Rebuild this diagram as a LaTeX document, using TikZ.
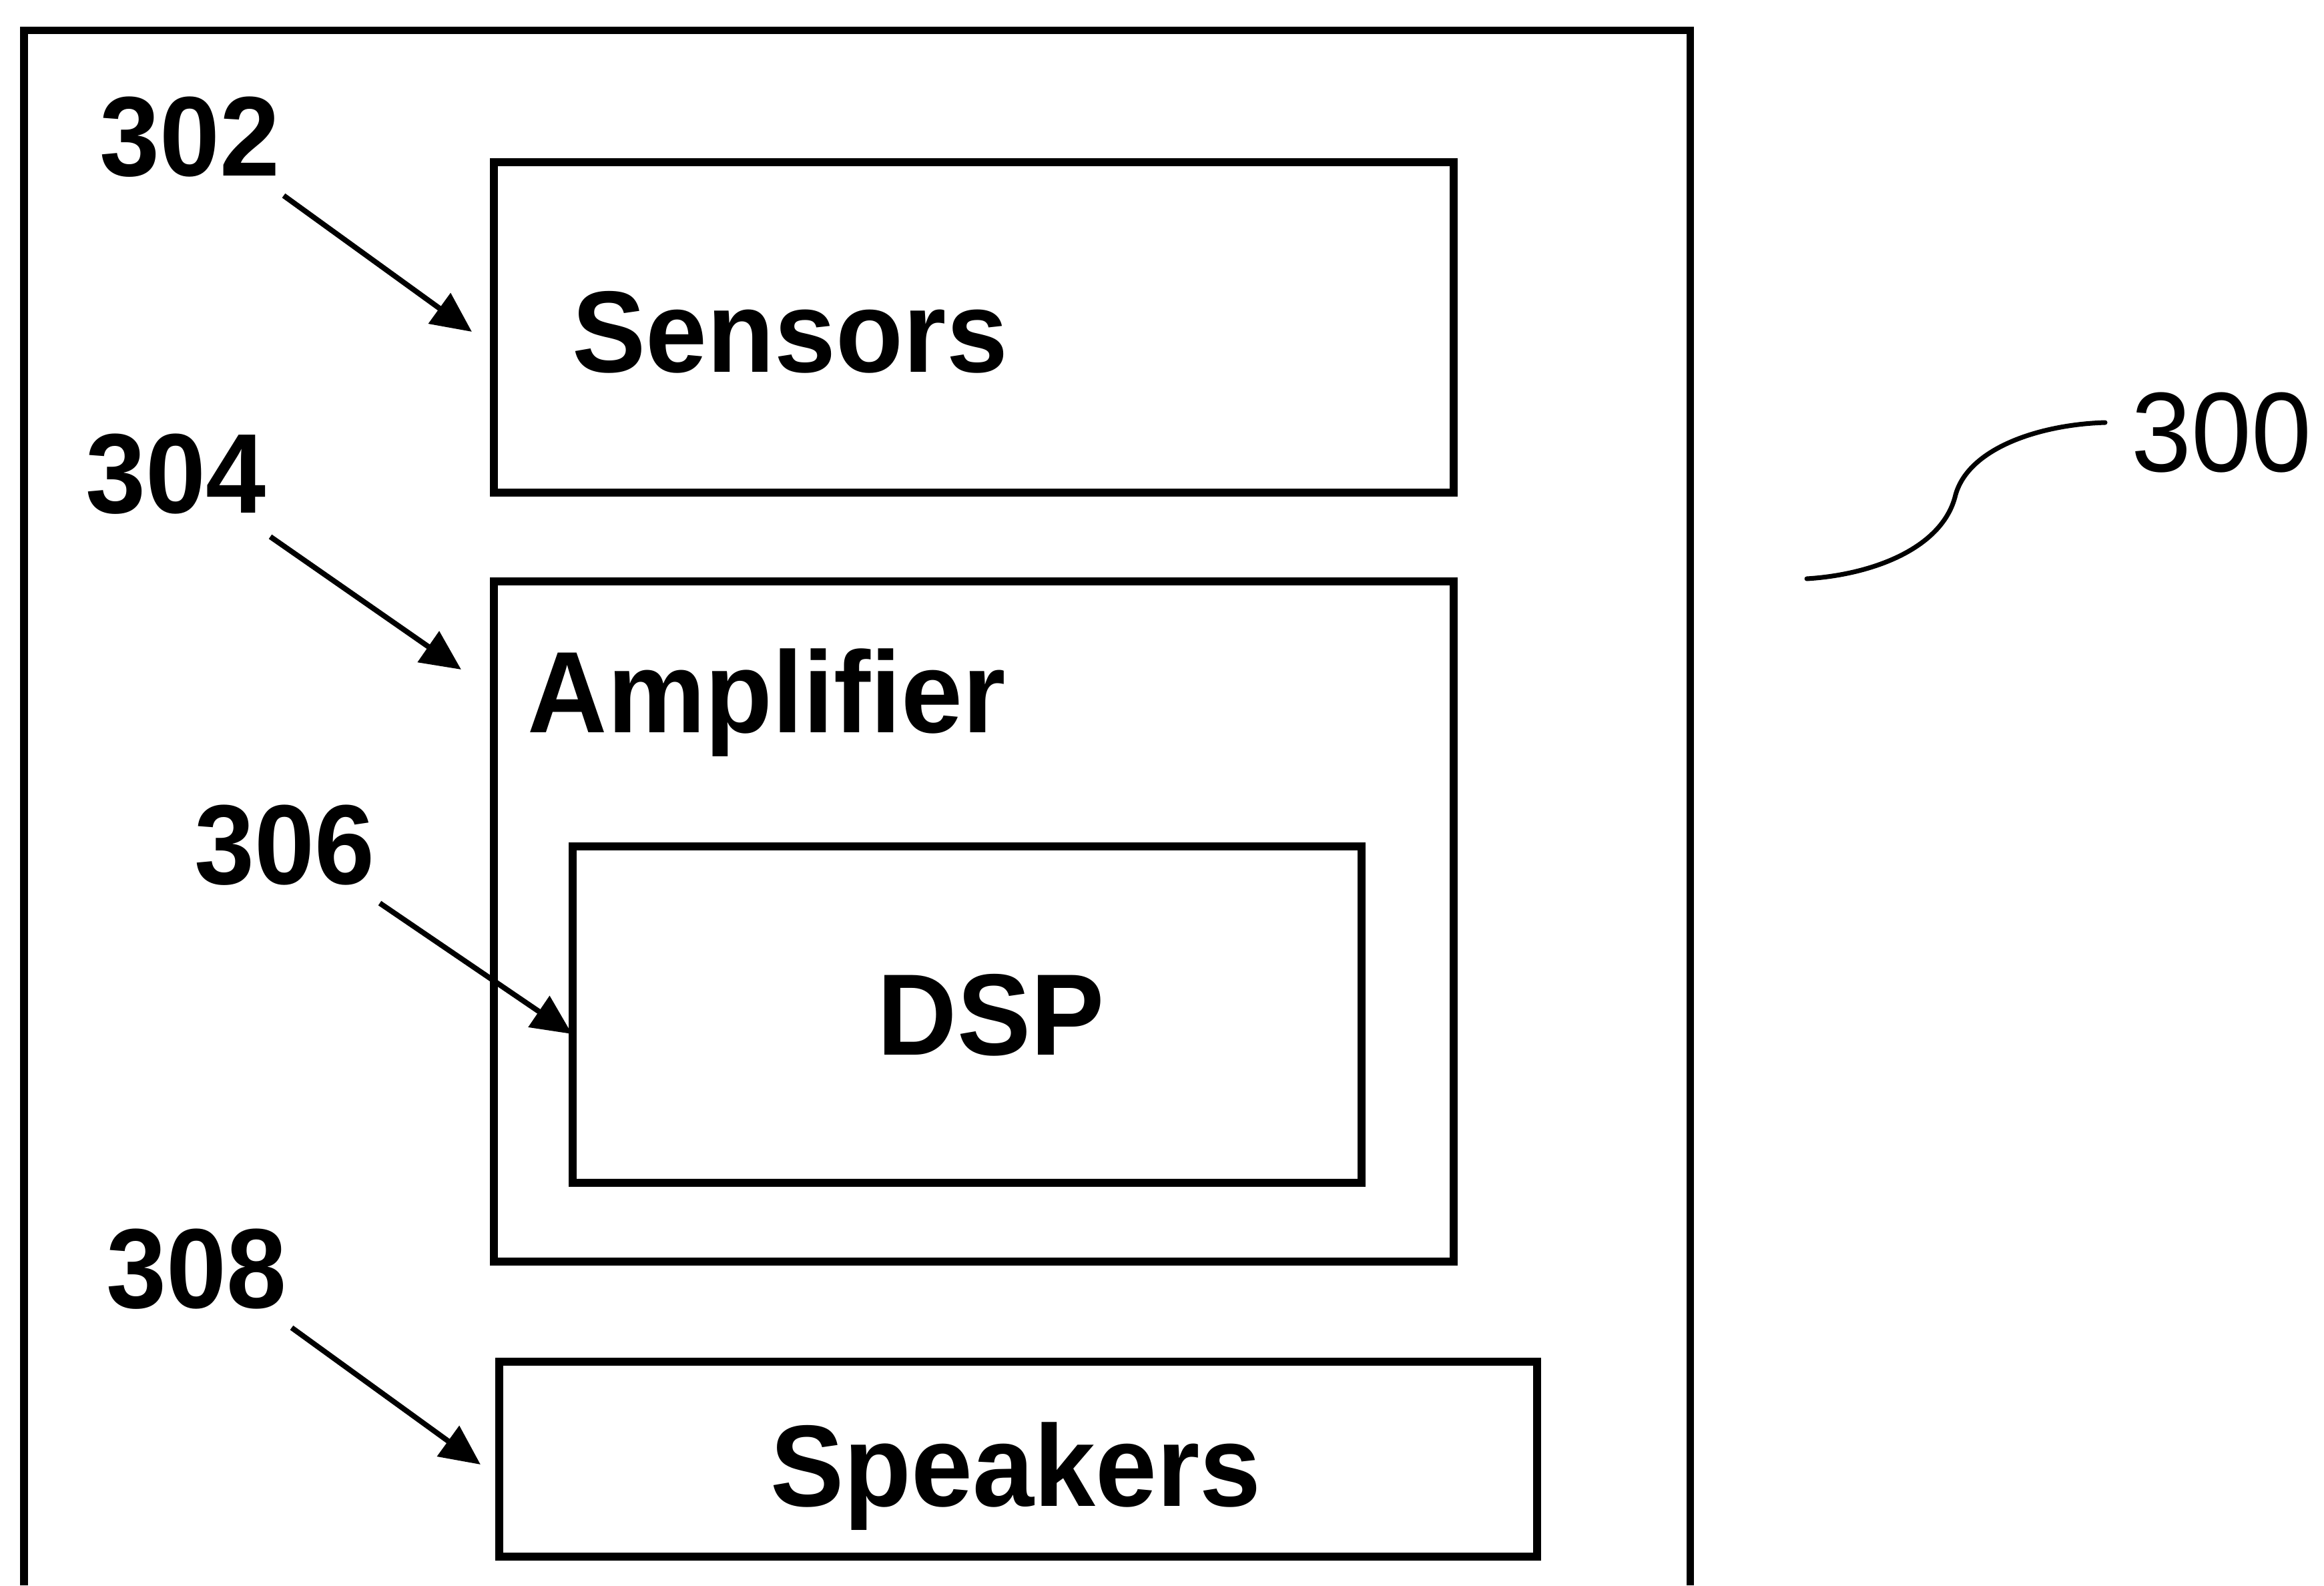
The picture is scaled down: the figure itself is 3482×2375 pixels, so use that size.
\documentclass[tikz,border=0pt]{standalone}
\usepackage{graphicx}
\usepackage{fontspec}
\setmainfont{Liberation Sans}
\usetikzlibrary{arrows.meta}
\newcommand\talltxt[1]{\scalebox{1}[1.05]{#1}}
\begin{document}
\begin{tikzpicture}[x=0.01cm,y=-0.01cm,
  frame/.style={line width=0.11cm},
  box/.style={draw, line width=0.12cm, inner sep=0pt, outer sep=0pt},
  lbl/.style={anchor=base west, inner sep=0pt, font=\fontsize{47}{50}\selectfont\bfseries},
  refnum/.style={anchor=base west, inner sep=0pt, font=\fontsize{46}{50}\selectfont\bfseries},
  refplain/.style={anchor=base west, inner sep=0pt, font=\fontsize{46}{50}\selectfont},
  pointer/.style={line width=0.08cm, -{Triangle[length=0.6cm,width=0.55cm]}},
  curve/.style={line width=0.07cm, line cap=round},
]
\useasboundingbox (0,0) rectangle (3482,2375);
% outer frame (open at the bottom edge of the picture)
\draw[frame] (36,2375) -- (36,45) -- (2532,45) -- (2532,2375);
% boxes
\node[box, minimum width=14.38cm, minimum height=4.95cm] (sensors) at (1459,490.5) {};
\node[box, minimum width=14.38cm, minimum height=10.19cm] (amp) at (1459,1380.5) {};
\node[box, minimum width=11.82cm, minimum height=5.04cm] (dsp) at (1449,1520) {};
\node[box, minimum width=15.55cm, minimum height=2.92cm] (spk) at (1525.5,2186) {};
% box texts
\node[lbl] (tsens) at (857,557) {\talltxt{Sensors}};
\node[lbl] (tamp) at (790,1097) {\talltxt{Amplifier}};
\node[lbl] (tdsp) at (1314,1580) {\talltxt{DSP}};
\node[lbl] (tspk) at (1154,2256) {\talltxt{Speakers}};
% reference numerals
\node[refnum] (n302) at (149,263) {\talltxt{302}};
\node[refnum] (n304) at (128,768) {\talltxt{304}};
\node[refnum] (n306) at (291,1324) {\talltxt{306}};
\node[refnum] (n308) at (159,1959) {\talltxt{308}};
\node[refplain] (n300) at (3193,706) {\talltxt{300}};
% pointer arrows
\coordinate (a302s) at (425,293);  \coordinate (a302e) at (707,497);
\coordinate (a304s) at (405,804);  \coordinate (a304e) at (691,1003);
\coordinate (a306s) at (569,1353); \coordinate (a306e) at (857,1549);
\coordinate (a308s) at (437,1989); \coordinate (a308e) at (720,2194);
\draw[pointer] (a302s) -- (a302e);
\draw[pointer] (a304s) -- (a304e);
\draw[pointer] (a306s) -- (a306e);
\draw[pointer] (a308s) -- (a308e);
% lead line of 300
\coordinate (s0) at (2707,867);
\coordinate (s1) at (3154,633);
\draw[curve] (s0) .. controls (2805,861) and (2908,822) .. (2929,745)
  .. controls (2946,672) and (3055,636) .. (s1);
\end{tikzpicture}
\end{document}
